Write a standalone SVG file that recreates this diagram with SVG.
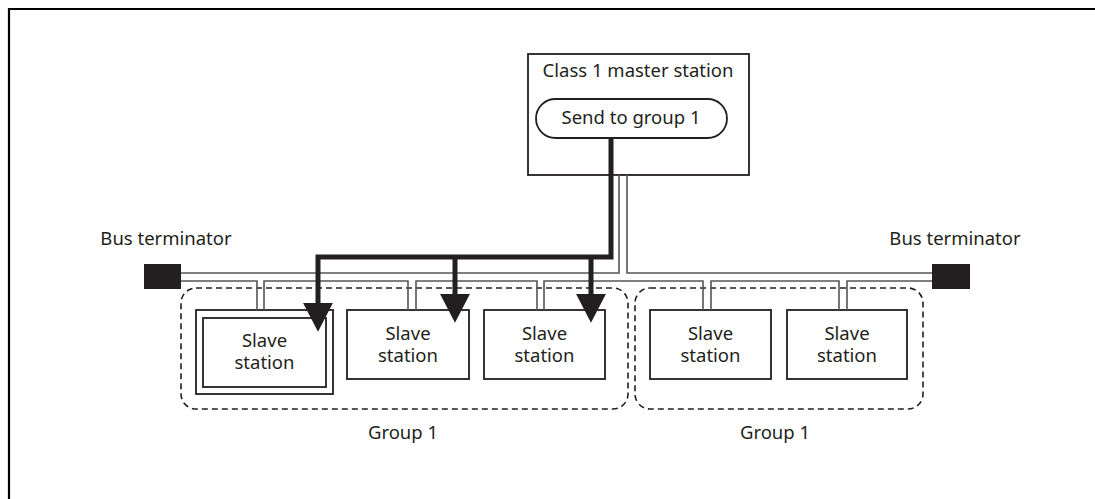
<svg xmlns="http://www.w3.org/2000/svg" width="1095" height="499" viewBox="0 0 1095 499">
<style>
  text { font-family: "Noto Sans", "Open Sans", sans-serif; font-size: 18.5px; fill: #231f20; text-anchor: middle; }
  .box { fill: #fff; stroke: #231f20; stroke-width: 1.8; }
  .bus { fill: none; stroke: #555; stroke-width: 1.6; }
  .thick { fill: none; stroke: #231f20; stroke-width: 5; stroke-linejoin: miter; }
  .grp { fill: none; stroke: #231f20; stroke-width: 1.6; stroke-dasharray: 6 4; }
  .term { fill: #231f20; }
</style>
<defs>
  <marker id="ah" markerUnits="userSpaceOnUse" markerWidth="30" markerHeight="30" viewBox="0 0 28 28" refX="2" refY="14" orient="auto">
    <path d="M0,0 L27,14 L0,28 z" fill="#231f20"/>
  </marker>
</defs>
<rect width="1095" height="499" fill="#fff"/>
<path d="M9,499 V9 H1095" fill="none" stroke="#000" stroke-width="2.2"/>

<g id="group-a"><rect class="grp" x="181" y="288" width="447" height="121" rx="15"/><text x="403" y="439">Group 1</text></g>
<g id="group-b"><rect class="grp" x="635" y="288" width="288" height="121" rx="15"/><text x="775" y="439">Group 1</text></g>

<g id="master">
  <rect class="box" x="528" y="54" width="221" height="121"/>
  <text x="638" y="77">Class 1 master station</text>
  <rect class="box" x="536" y="99" width="191" height="39" rx="19.5"/>
  <text x="631" y="124">Send to group 1</text>
</g>

<g id="term-left"><rect class="term" x="144" y="264" width="37" height="25"/><text x="166" y="245">Bus terminator</text></g>
<g id="term-right"><rect class="term" x="932" y="264" width="38" height="25"/><text x="955" y="245">Bus terminator</text></g>

<g id="slave1">
  <rect class="box" x="196" y="310" width="137" height="84"/>
  <rect class="box" x="203" y="318" width="123" height="69"/>
  <text x="264.5" y="347">Slave</text><text x="264.5" y="369">station</text>
</g>
<g id="slave2"><rect class="box" x="347" y="310" width="122" height="69"/><text x="408" y="340">Slave</text><text x="408" y="362">station</text></g>
<g id="slave3"><rect class="box" x="484" y="310" width="121" height="69"/><text x="544.5" y="340">Slave</text><text x="544.5" y="362">station</text></g>
<g id="slave4"><rect class="box" x="650" y="310" width="121" height="69"/><text x="710.5" y="340">Slave</text><text x="710.5" y="362">station</text></g>
<g id="slave5"><rect class="box" x="787" y="310" width="120" height="69"/><text x="847" y="340">Slave</text><text x="847" y="362">station</text></g>

<g id="connectors">
  <path class="bus" d="M181,273 H619 V175"/>
  <path class="bus" d="M627,175 V273 H932"/>
  <path class="bus" d="M181,281 H257 V310 M264,310 V281 H408 V310 M416,310 V281 H537 V310 M544,310 V281 H703 V310 M711,310 V281 H839 V310 M847,310 V281 H932"/>
  <path class="thick" d="M611,138 V257 H318 V305" marker-end="url(#ah)"/>
  <path class="thick" d="M455,257 V296" marker-end="url(#ah)"/>
  <path class="thick" d="M591,257 V296" marker-end="url(#ah)"/>
</g>
</svg>
